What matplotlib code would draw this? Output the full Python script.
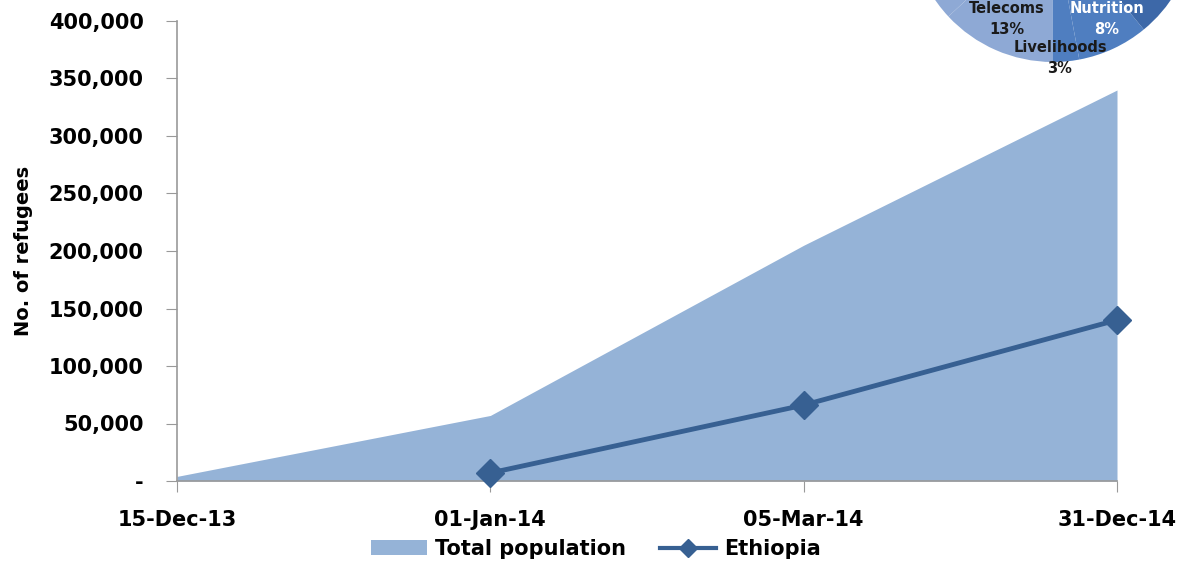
import matplotlib.pyplot as plt
import matplotlib.ticker as mticker
from matplotlib.patches import Patch
from matplotlib.lines import Line2D

dates = ["15-Dec-13", "01-Jan-14", "05-Mar-14", "31-Dec-14"]
total_population = [4000, 57000, 205000, 340000]
ethiopia_dates = ["01-Jan-14", "05-Mar-14", "31-Dec-14"]
ethiopia = [7000, 66000, 140000]

# pie fragment in the corner (only a part is visible)
pie_labels = ["Telecoms", "Livelihoods", "Nutrition", "Other", "Other 2"]
pie_values = [13, 3, 8, 45, 31]

area_col = "#95B3D7"
line_col = "#376092"

fig = plt.figure(figsize=(11.8, 5.63), dpi=100)
ax = fig.add_axes([177 / 1180, 1 - 481 / 563, (1117 - 177) / 1180, 460 / 563])

x = list(range(len(dates)))
xe = [dates.index(d) for d in ethiopia_dates]
ax.fill_between(x, 0, total_population, color=area_col, linewidth=0, zorder=1)
ax.plot(xe, ethiopia, color=line_col, linewidth=3.5, marker="D", markersize=14, zorder=3,
        clip_on=False)

ax.set_xlim(0, 3)
ax.set_ylim(0, 400000)
ax.set_xticks(x)
ax.set_xticklabels(dates, fontsize=15, fontweight="bold")
ax.yaxis.set_major_locator(mticker.MultipleLocator(50000))
ax.yaxis.set_major_formatter(mticker.FuncFormatter(lambda v, p: "-" if v == 0 else f"{int(v):,}"))
for lab in ax.get_yticklabels():
    lab.set_fontweight("bold")
ax.tick_params(axis="y", labelsize=15, length=8, color="#999999", pad=16)
ax.tick_params(axis="x", length=8, color="#999999", pad=13)
ax.set_ylabel("No. of refugees", fontsize=14, fontweight="bold", labelpad=11)
for s in ["top", "right"]:
    ax.spines[s].set_visible(False)
for s in ["left", "bottom"]:
    ax.spines[s].set_color("#999999")
    ax.spines[s].set_linewidth(1.2)

handles = [Patch(facecolor=area_col, edgecolor="none"),
           Line2D([], [], color=line_col, linewidth=3, marker="D", markersize=9)]
fig.legend(handles, ["Total population", "Ethiopia"], loc="center",
           bbox_to_anchor=(596 / 1180, 1 - 549 / 563), ncol=2, frameon=False,
           prop={"size": 15, "weight": "bold"}, handlelength=2.7, handletextpad=0.4,
           columnspacing=1.6)

pax = fig.add_axes([(1053 - 143) / 1180, 1 - 62 / 563, 286 / 1180, 286 / 563], zorder=5)
pax.pie(pie_values, colors=["#8EA9D5", "#4F7EC0", "#4F7EC0", "#3D68A8", "#8EA9D5"],
        startangle=223, counterclock=True, radius=1, wedgeprops={"linewidth": 0})
pax.set_xlim(-1, 1)
pax.set_ylim(-1, 1)
pax.set_aspect("auto")
pax.axis("off")

fig.text(1007 / 1180, 1 - 19 / 563, "Telecoms\n13%", ha="center", va="center",
         fontsize=10.5, fontweight="bold", color="#1a1a1a", linespacing=1.5, zorder=6)
fig.text(1107 / 1180, 1 - 19 / 563, "Nutrition\n8%", ha="center", va="center",
         fontsize=10.5, fontweight="bold", color="white", linespacing=1.5, zorder=6)
fig.text(1060 / 1180, 1 - 58 / 563, "Livelihoods\n3%", ha="center", va="center",
         fontsize=10.5, fontweight="bold", color="#1a1a1a", linespacing=1.5, zorder=6)

fig.savefig("out.png", dpi=100)
